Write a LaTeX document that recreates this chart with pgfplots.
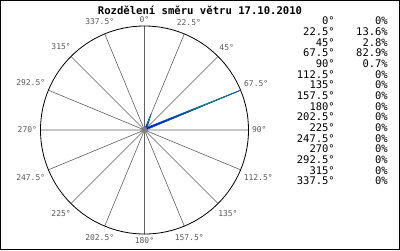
\documentclass[border=0pt]{standalone}
\usepackage{fontspec}
\setmainfont{DejaVu Sans Mono}
\usepackage{pgfplots}
\pgfplotsset{compat=1.18}
\usepgfplotslibrary{polar}
\definecolor{lblgray}{RGB}{90,90,90}
\definecolor{spoke}{RGB}{95,95,95}
\begin{document}
\begin{tikzpicture}
\useasboundingbox (0,0) rectangle (400pt,250pt);
\fill[white] (0,0) rectangle (400pt,250pt);
\draw[black, line width=1.2pt] (0.6pt,0.6pt) rectangle (399.4pt,249.4pt);
\node[font=\fontsize{10.6}{12}\selectfont\bfseries] at (200pt,240pt) {Rozdělení směru větru 17.10.2010};
\begin{polaraxis}[
  at={(144.5pt,120pt)}, anchor=center,
  scale only axis, width=208pt, height=208pt,
  ymin=0, ymax=82.9, ytick=\empty,
  xtick={0,22.5,...,337.5},
  xticklabels={90°,67.5°,45°,22.5°,0°,337.5°,315°,292.5°,270°,247.5°,225°,202.5°,180°,157.5°,135°,112.5°},
  xmajorgrids=true, ymajorgrids=false,
  major grid style={spoke, line width=0.6pt},
  x axis line style={black, line width=0.8pt},
  y axis line style={draw=none},
  major tick length=0pt,
  tick label style={font=\fontsize{8}{8}\selectfont, text=lblgray},
]
\addplot[fill=blue, draw=blue, line width=0.7pt] coordinates {
 (90,0) (67.5,13.6) (45,2.8) (22.5,82.9) (0,0.7) (337.5,0) (315,0) (292.5,0)
 (270,0) (247.5,0) (225,0) (202.5,0) (180,0) (157.5,0) (135,0) (112.5,0)
} -- cycle;
\addplot[green!70!blue, line width=0.3pt] coordinates {
 (90,0) (67.5,13.6) (45,2.8) (22.5,82.9) (0,0.7) (337.5,0)
};
\addplot[only marks, mark=*, mark size=2.8pt, color=gray] coordinates {(0,0)};
\end{polaraxis}
\foreach \a/\p [count=\i from 0] in {0°/0\%,22.5°/13.6\%,45°/2.8\%,67.5°/82.9\%,90°/0.7\%,112.5°/0\%,135°/0\%,157.5°/0\%,180°/0\%,202.5°/0\%,225°/0\%,247.5°/0\%,270°/0\%,292.5°/0\%,315°/0\%,337.5°/0\%}{
  \node[anchor=east, inner sep=0pt, font=\fontsize{10.5}{11}\selectfont] at (335pt,{229pt-10.67pt*\i}) {\a};
  \node[anchor=east, inner sep=0pt, font=\fontsize{10.5}{11}\selectfont] at (388pt,{229pt-10.67pt*\i}) {\p};
}
\end{tikzpicture}
\end{document}
